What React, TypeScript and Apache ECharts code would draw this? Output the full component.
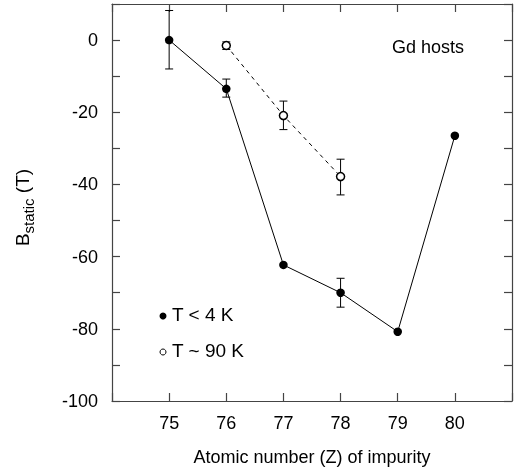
import React, { useEffect, useRef } from "react";
import * as echarts from "echarts";

const zLow = [75, 76, 77, 78, 79, 80];
const bLow = [0, -13.5, -62.3, -70, -80.8, -26.5];
const errLowLo = [-8, -15.8, -62.3, -74, -80.8, -26.5];
const errLowHi = [8.2, -10.8, -62.3, -66, -80.8, -26.5];

const zHigh = [76, 77, 78];
const bHigh = [-1.5, -20.9, -37.8];
const errHighLo = [-2.6, -24.8, -42.9];
const errHighHi = [-0.5, -16.9, -33];

const xTicks = [75, 76, 77, 78, 79, 80];
const yTickLabels = [0, -20, -40, -60, -80, -100];

const FONT = "Liberation Sans, Arial, sans-serif";

function errSeries(z: number[], lo: number[], hi: number[]) {
  const data = z.map((v, i) => [v, lo[i], hi[i]]).filter((d) => d[2] - d[1] > 0.5);
  return {
    type: "custom",
    data,
    z: 3,
    renderItem: (params: any, api: any) => {
      const x = api.value(0);
      const p1 = api.coord([x, api.value(1)]);
      const p2 = api.coord([x, api.value(2)]);
      const hw = 4;
      const style = { stroke: "#000", lineWidth: 1 };
      return {
        type: "group",
        children: [
          { type: "line", shape: { x1: p1[0], y1: p1[1], x2: p2[0], y2: p2[1] }, style },
          { type: "line", shape: { x1: p1[0] - hw, y1: p1[1], x2: p1[0] + hw, y2: p1[1] }, style },
          { type: "line", shape: { x1: p2[0] - hw, y1: p2[1], x2: p2[0] + hw, y2: p2[1] }, style },
        ],
      };
    },
  };
}

export default function App() {
  const ref = useRef<HTMLDivElement>(null);
  useEffect(() => {
    const chart = echarts.init(ref.current!, undefined, { renderer: "svg" });
    const axisLine = { show: true, onZero: false, lineStyle: { color: "#444", width: 1.2 } };
    const tick = { show: true, inside: true, length: 8, lineStyle: { color: "#444", width: 1.2 } };
    chart.setOption({
      animation: false,
      grid: { left: 112, right: 8, top: 4, bottom: 64, containLabel: false },
      xAxis: [
        {
          type: "value",
          min: 74,
          max: 81,
          interval: 1,
          axisLine,
          axisTick: tick,
          splitLine: { show: false },
          axisLabel: {
            color: "#000",
            fontFamily: FONT,
            fontSize: 18,
            margin: 13,
            formatter: (v: number) => (xTicks.includes(v) ? String(v) : ""),
          },
          name: "Atomic number (Z) of impurity",
          nameLocation: "middle",
          nameGap: 47,
          nameTextStyle: { color: "#000", fontFamily: FONT, fontSize: 18 },
        },
        {
          type: "value",
          position: "top",
          min: 74,
          max: 81,
          interval: 1,
          axisLine,
          axisTick: tick,
          axisLabel: { show: false },
          splitLine: { show: false },
        },
      ],
      yAxis: [
        {
          type: "value",
          min: -100,
          max: 10,
          interval: 10,
          axisLine,
          axisTick: tick,
          splitLine: { show: false },
          axisLabel: {
            color: "#000",
            fontFamily: FONT,
            fontSize: 18,
            margin: 14,
            formatter: (v: number) => (yTickLabels.includes(v) ? String(v) : ""),
          },
          name: "{b|B}{s|static}{b| (T)}",
          nameLocation: "middle",
          nameRotate: 90,
          nameGap: 80,
          nameTextStyle: {
            color: "#000",
            fontFamily: FONT,
            padding: [0, 10, 0, 0],
            rich: {
              b: { fontFamily: FONT, fontSize: 19, color: "#000", verticalAlign: "bottom", lineHeight: 22 },
              s: { fontFamily: FONT, fontSize: 15, color: "#000", verticalAlign: "bottom", lineHeight: 22, padding: [0, 0, -4, 0] },
            },
          },
        },
        {
          type: "value",
          position: "right",
          min: -100,
          max: 10,
          interval: 10,
          axisLine,
          axisTick: tick,
          axisLabel: { show: false },
          splitLine: { show: false },
        },
      ],
      graphic: [
        {
          type: "text",
          x: 392,
          y: 38,
          style: { text: "Gd hosts", fill: "#000", font: `18px ${FONT}` },
        },
        {
          type: "circle",
          shape: { cx: 163, cy: 316, r: 3.5 },
          style: { fill: "#000" },
        },
        {
          type: "text",
          x: 172,
          y: 305,
          style: { text: "T < 4 K", fill: "#000", font: `19px ${FONT}` },
        },
        {
          type: "circle",
          shape: { cx: 163, cy: 352, r: 3 },
          style: { fill: "#fff", stroke: "#000", lineWidth: 1 },
        },
        {
          type: "text",
          x: 172,
          y: 341,
          style: { text: "T ~ 90 K", fill: "#000", font: `19px ${FONT}` },
        },
      ],
      series: [
        errSeries(zLow, errLowLo, errLowHi),
        errSeries(zHigh, errHighLo, errHighHi),
        {
          type: "line",
          data: zLow.map((z, i) => [z, bLow[i]]),
          symbol: "circle",
          symbolSize: 8.5,
          itemStyle: { color: "#000" },
          lineStyle: { color: "#000", width: 1 },
          z: 4,
        },
        {
          type: "line",
          data: zHigh.map((z, i) => [z, bHigh[i]]),
          symbol: "circle",
          symbolSize: 8,
          itemStyle: { color: "#fff", borderColor: "#000", borderWidth: 1.5 },
          lineStyle: { color: "#000", width: 1, type: [4, 4] },
          z: 4,
        },
      ],
    });
    return () => chart.dispose();
  }, []);
  return <div ref={ref} style={{ position: "fixed", left: 0, top: 0, width: 520, height: 471 }} />;
}
